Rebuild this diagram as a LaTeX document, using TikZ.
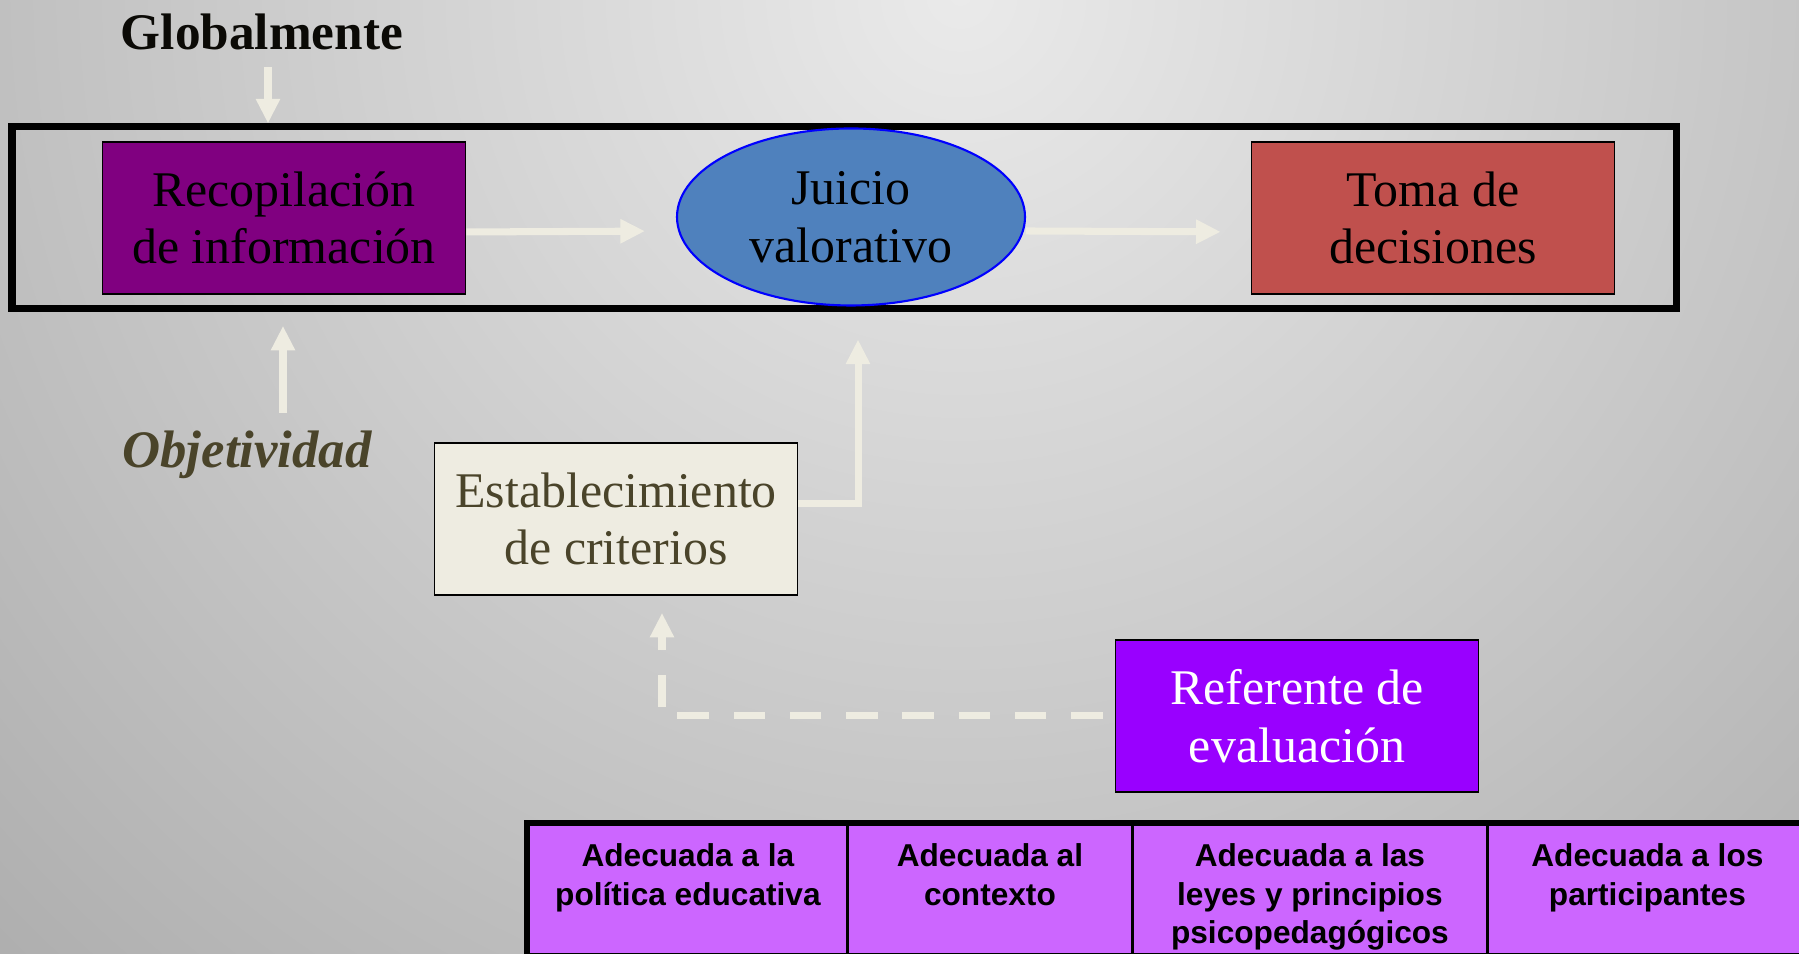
\documentclass[tikz,border=0pt]{standalone}
\usepackage{fontspec}
\setmainfont{Liberation Serif}
\setsansfont{Liberation Sans}
\usetikzlibrary{arrows.meta,shapes.geometric}

\definecolor{crema}{HTML}{EEECE1}
\definecolor{morado}{HTML}{800080}
\definecolor{azuljuicio}{HTML}{4F81BD}
\definecolor{rojotoma}{HTML}{C0504D}
\definecolor{violeta}{HTML}{9900FF}
\definecolor{lila}{HTML}{CC66FF}
\definecolor{oliva}{HTML}{4A442A}
\definecolor{fondoclaro}{HTML}{EAEAEA}
\definecolor{fondooscuro}{HTML}{979797}

\begin{document}
\begin{tikzpicture}[
  caja/.style={draw=black, line width=0.5pt, minimum width=3.63cm, minimum height=1.52cm, inner sep=0pt, align=center, font=\fontsize{14.2}{16.4}\selectfont},
  flecha/.style={draw=crema, line width=2pt, -{Triangle[width=6.5pt,length=7pt]}},
  celda/.style={draw=black, line width=0.8pt, fill=lila, minimum height=1.30cm, inner sep=0pt, anchor=north west},
  textocelda/.style={inner sep=0pt, anchor=north, align=center, font=\fontsize{9}{11}\selectfont\sffamily\bfseries}]
\useasboundingbox (0,0) rectangle (17.99,9.54);
\begin{scope}
\clip (0,0) rectangle (17.99,9.54);
\shade[inner color=fondoclaro, outer color=fondooscuro] (9.6,9.6) circle (19cm);
\end{scope}

% marco superior
\node[draw=black, line width=2pt, minimum width=16.64cm, minimum height=1.82cm, inner sep=0pt] (marco) at (8.44,7.36) {};
\node[caja, fill=morado] (recop) at (2.84,7.36) {Recopilación\\de información};
\node[ellipse, draw=blue, line width=0.6pt, fill=azuljuicio, minimum width=3.48cm, minimum height=1.77cm, inner sep=0pt, align=center, font=\fontsize{14.2}{16.4}\selectfont] (juicio) at (8.51,7.37) {Juicio\\valorativo};
\node[caja, fill=rojotoma] (toma) at (14.33,7.36) {Toma de\\decisiones};

\node[font=\bfseries\fontsize{14.6}{17}\selectfont, text=black!85!oliva] (glob) at (2.62,9.22) {Globalmente};
\node[font=\bfseries\itshape\fontsize{15}{18}\selectfont, text=oliva] (obj) at (2.47,4.99) {Objetividad};

\node[caja, fill=crema, text=oliva] (estab) at (6.16,4.35) {Establecimiento\\de criterios};
\node[caja, fill=violeta, text=white] (refer) at (12.97,2.38) {Referente de\\evaluación};

\coordinate (globbot) at (2.68,8.87);
\coordinate (objtop) at (2.83,5.41);

% flechas
\draw[flecha] (globbot) -- (globbot |- marco.north);
\draw[flecha, shorten >=0.31cm] (objtop) -- (objtop |- recop.south);
\draw[flecha, shorten >=0.31cm] ([yshift=-0.14cm]recop.east) -- ([yshift=-0.14cm]juicio.west);
\draw[flecha, shorten >=0.30cm] ([yshift=-0.14cm]juicio.east) -- ([yshift=-0.14cm]toma.west);
\draw[flecha, shorten >=0.33cm] ([yshift=0.15cm]estab.east) -| ([xshift=0.07cm]juicio.south);
\draw[flecha, dash pattern=on 9pt off 7pt, shorten <=0.12cm, shorten >=0.17cm] (refer.west) -| ([xshift=0.46cm]estab.south);

% tabla
\node[celda, minimum width=3.19cm] (c1) at (5.27,1.31) {};
\node[celda, minimum width=2.85cm] (c2) at (8.46,1.31) {};
\node[celda, minimum width=3.55cm] (c3) at (11.31,1.31) {};
\node[celda, minimum width=3.20cm] (c4) at (14.86,1.31) {};
\draw[line width=1.7pt] (c1.south west) -- (c1.north west) -- (c4.north east);
\node[textocelda] (t1) at ([yshift=-0.2cm]c1.north) {Adecuada a la\\política educativa};
\node[textocelda] (t2) at ([yshift=-0.2cm]c2.north) {Adecuada al\\contexto};
\node[textocelda] (t3) at ([yshift=-0.2cm]c3.north) {Adecuada a las\\leyes y principios\\psicopedagógicos};
\node[textocelda] (t4) at ([yshift=-0.2cm]c4.north) {Adecuada a los\\participantes};
\end{tikzpicture}
\end{document}
